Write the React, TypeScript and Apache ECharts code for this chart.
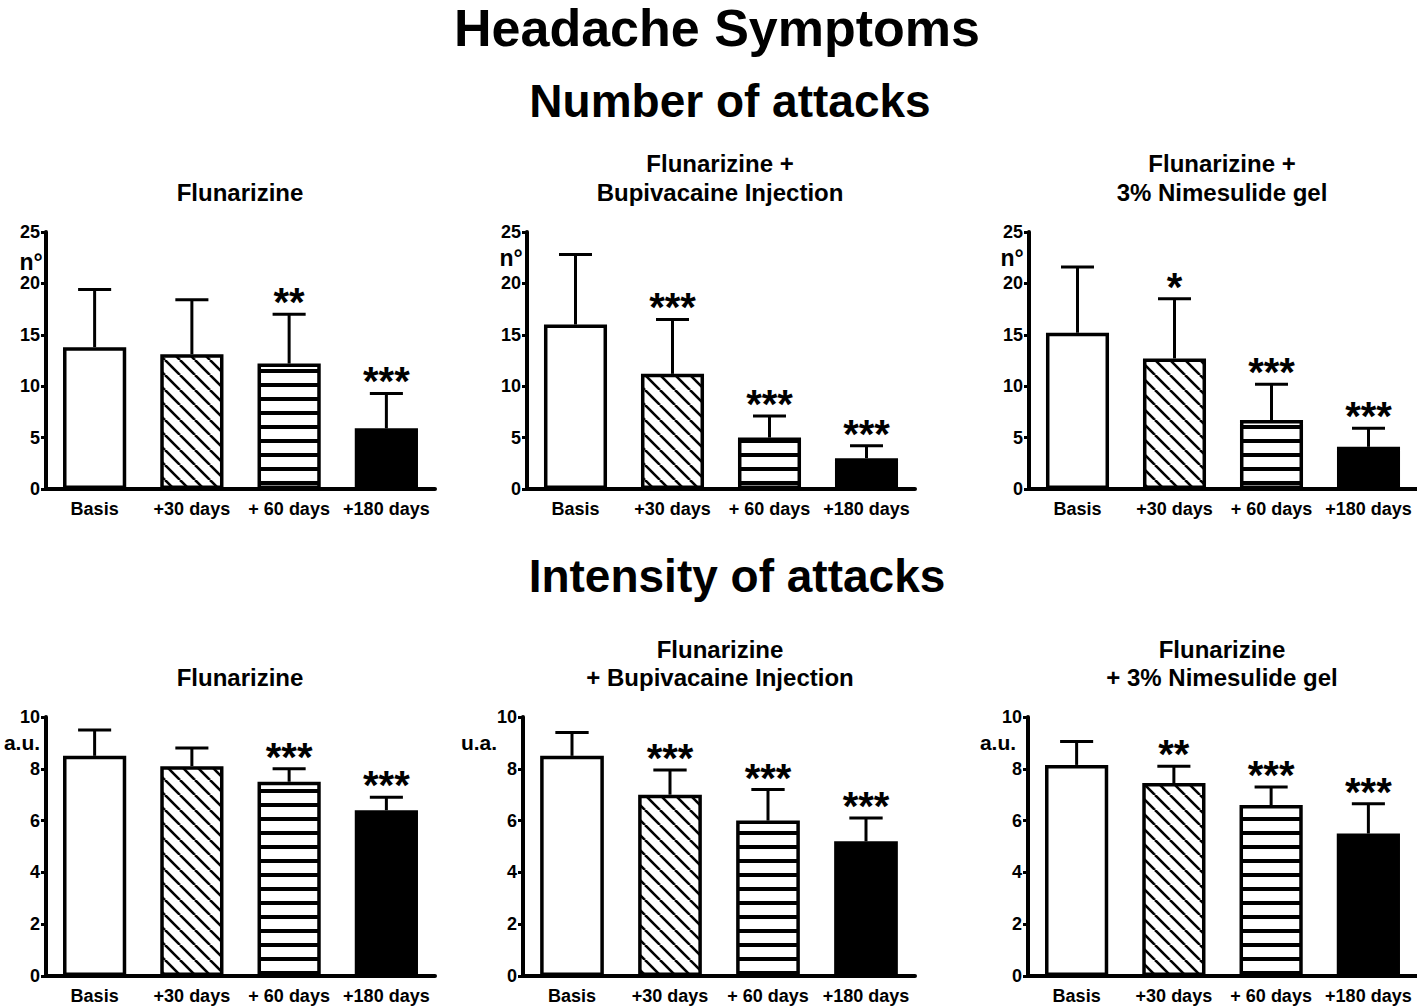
import React, { useEffect, useRef } from 'react';
import * as echarts from 'echarts';

const CATEGORIES = ['Basis', '+30 days', '+ 60 days', '+180 days'];

// Number of attacks (n°)
const attacksFluMean = [13.8, 13.1, 12.2, 5.9];
const attacksFluErr = [5.6, 5.3, 4.8, 3.4];
const attacksFluStars = ['', '', '**', '***'];

const attacksBupiMean = [16.0, 11.2, 5.0, 3.0];
const attacksBupiErr = [6.8, 5.3, 2.1, 1.2];
const attacksBupiStars = ['', '***', '***', '***'];

const attacksNimeMean = [15.2, 12.7, 6.7, 4.1];
const attacksNimeErr = [6.4, 5.8, 3.5, 1.8];
const attacksNimeStars = ['', '*', '***', '***'];

// Intensity of attacks (a.u.)
const intensFluMean = [8.5, 8.1, 7.5, 6.4];
const intensFluErr = [1.0, 0.7, 0.5, 0.5];
const intensFluStars = ['', '', '***', '***'];

const intensBupiMean = [8.5, 7.0, 6.0, 5.2];
const intensBupiErr = [0.9, 0.95, 1.2, 0.9];
const intensBupiStars = ['', '***', '***', '***'];

const intensNimeMean = [8.15, 7.45, 6.6, 5.5];
const intensNimeErr = [0.9, 0.65, 0.7, 1.15];
const intensNimeStars = ['', '**', '***', '***'];

const ATTACK_TICKS = { min: 0, max: 25, interval: 5 };
const INTENS_TICKS = { min: 0, max: 10, interval: 2 };

const FONT = '"Liberation Sans", Arial, Helvetica, sans-serif';

function makeHatch(): HTMLCanvasElement {
  const s = 15;
  const c = document.createElement('canvas');
  c.width = s;
  c.height = s;
  const ctx = c.getContext('2d')!;
  ctx.fillStyle = '#fff';
  ctx.fillRect(0, 0, s, s);
  ctx.strokeStyle = '#000';
  ctx.lineWidth = 2.6;
  for (let k = -1; k <= 1; k++) {
    ctx.beginPath();
    ctx.moveTo(k * s, 0);
    ctx.lineTo(k * s + s, s);
    ctx.stroke();
  }
  return c;
}

function makeStripes(): HTMLCanvasElement {
  const c = document.createElement('canvas');
  c.width = 8;
  c.height = 14;
  const ctx = c.getContext('2d')!;
  ctx.fillStyle = '#fff';
  ctx.fillRect(0, 0, 8, 14);
  ctx.fillStyle = '#000';
  ctx.fillRect(0, 5, 8, 4);
  return c;
}

type Panel = {
  mean: number[];
  err: number[];
  stars: string[];
  ticks: { min: number; max: number; interval: number };
  grid: { left: number; top: number; width: number; height: number };
};

const PANELS: Panel[] = [
  { mean: attacksFluMean, err: attacksFluErr, stars: attacksFluStars, ticks: ATTACK_TICKS, grid: { left: 46, top: 232, width: 389, height: 257 } },
  { mean: attacksBupiMean, err: attacksBupiErr, stars: attacksBupiStars, ticks: ATTACK_TICKS, grid: { left: 527, top: 232, width: 388, height: 257 } },
  { mean: attacksNimeMean, err: attacksNimeErr, stars: attacksNimeStars, ticks: ATTACK_TICKS, grid: { left: 1029, top: 232, width: 388, height: 257 } },
  { mean: intensFluMean, err: intensFluErr, stars: intensFluStars, ticks: INTENS_TICKS, grid: { left: 46, top: 717, width: 389, height: 259 } },
  { mean: intensBupiMean, err: intensBupiErr, stars: intensBupiStars, ticks: INTENS_TICKS, grid: { left: 523, top: 717, width: 392, height: 259 } },
  { mean: intensNimeMean, err: intensNimeErr, stars: intensNimeStars, ticks: INTENS_TICKS, grid: { left: 1028, top: 717, width: 389, height: 259 } },
];

function txt(text: string, x: number, y: number, size: number, lineHeight?: number) {
  return {
    type: 'text',
    x,
    y,
    silent: true,
    style: {
      text,
      fill: '#000',
      fontSize: size,
      fontWeight: 'bold',
      fontFamily: FONT,
      lineHeight: lineHeight || Math.round(size * 1.2),
      align: 'center',
      verticalAlign: 'middle',
      textAlign: 'center',
      textVerticalAlign: 'middle',
    },
  };
}

export default function App() {
  const ref = useRef<HTMLDivElement>(null);

  useEffect(() => {
    if (!ref.current) return;
    const chart = echarts.init(ref.current, undefined, { renderer: 'svg' });

    const hatch = makeHatch();
    const stripes = makeStripes();
    const fills: any[] = [
      '#fff',
      { image: hatch, repeat: 'repeat' },
      { image: stripes, repeat: 'repeat' },
      '#000',
    ];

    const grids: any[] = [];
    const xAxes: any[] = [];
    const yAxes: any[] = [];
    const series: any[] = [];

    PANELS.forEach((p, idx) => {
      grids.push({ ...p.grid, containLabel: false });
      xAxes.push({
        type: 'category',
        gridIndex: idx,
        data: CATEGORIES,
        axisLine: { show: true, lineStyle: { color: '#000', width: 4 } },
        axisTick: { show: false },
        axisLabel: {
          color: '#000',
          fontSize: 18,
          fontWeight: 'bold',
          fontFamily: FONT,
          margin: 11,
          interval: 0,
        },
      });
      yAxes.push({
        type: 'value',
        gridIndex: idx,
        min: p.ticks.min,
        max: p.ticks.max,
        interval: p.ticks.interval,
        axisLine: { show: true, lineStyle: { color: '#000', width: 4 } },
        axisTick: { show: true, length: 5, lineStyle: { color: '#000', width: 3 } },
        axisLabel: {
          color: '#000',
          fontSize: 18,
          fontWeight: 'bold',
          fontFamily: FONT,
          margin: 6,
        },
        splitLine: { show: false },
      });
      series.push({
        type: 'bar',
        xAxisIndex: idx,
        yAxisIndex: idx,
        barWidth: '65%',
        data: p.mean.map((v, i) => ({
          value: v,
          itemStyle: { color: fills[i], borderColor: '#000', borderWidth: 3.5 },
        })),
        silent: true,
      });
      const stars = p.stars;
      series.push({
        type: 'custom',
        xAxisIndex: idx,
        yAxisIndex: idx,
        silent: true,
        encode: { x: 0, y: [1, 2] },
        data: p.mean.map((v, i) => [i, v, v + p.err[i]]),
        renderItem: (params: any, api: any) => {
          const i = api.value(0);
          const m = api.value(1);
          const t = api.value(2);
          const p0 = api.coord([i, m]);
          const p1 = api.coord([i, t]);
          const hw = api.size([1, 0])[0] * 0.17;
          const children: any[] = [
            {
              type: 'line',
              shape: { x1: p0[0], y1: p0[1], x2: p0[0], y2: p1[1] },
              style: { stroke: '#000', lineWidth: 3 },
            },
            {
              type: 'line',
              shape: { x1: p1[0] - hw, y1: p1[1], x2: p1[0] + hw, y2: p1[1] },
              style: { stroke: '#000', lineWidth: 3 },
            },
          ];
          const s = stars[params.dataIndex];
          if (s) {
            const fs = 40;
            children.push({
              type: 'text',
              style: {
                text: s,
                x: p1[0],
                y: p1[1] - 12,
                fill: '#000',
                fontSize: fs,
                fontWeight: 'bold',
                fontFamily: FONT,
                align: 'center',
                verticalAlign: 'middle',
                textAlign: 'center',
                textVerticalAlign: 'middle',
              },
            });
          }
          return { type: 'group', children };
        },
      });
    });

    const graphic: any[] = [
      txt('Headache Symptoms', 717, 28, 52, 52),
      txt('Number of attacks', 730, 101, 46),
      txt('Intensity of attacks', 737, 576, 46),
      txt('Flunarizine', 240, 192, 24),
      txt('Flunarizine +\nBupivacaine Injection', 720, 177.5, 24, 29),
      txt('Flunarizine +\n3% Nimesulide gel', 1222, 177.5, 24, 29),
      txt('Flunarizine', 240, 677, 24),
      txt('Flunarizine\n+ Bupivacaine Injection', 720, 663, 24, 28),
      txt('Flunarizine\n+ 3% Nimesulide gel', 1222, 663, 24, 28),
      txt('n°', 31, 262, 23),
      txt('n°', 511, 258, 23),
      txt('n°', 1012, 258, 23),
      txt('a.u.', 22, 742, 21),
      txt('u.a.', 479, 742, 21),
      txt('a.u.', 998, 742, 21),
    ];

    chart.setOption({
      animation: false,
      backgroundColor: '#fff',
      grid: grids,
      xAxis: xAxes,
      yAxis: yAxes,
      series,
      graphic,
    });

    return () => {
      chart.dispose();
    };
  }, []);

  return (
    <div
      ref={ref}
      style={{ position: 'absolute', left: 0, top: 0, width: 1417, height: 1006, background: '#fff' }}
    />
  );
}
